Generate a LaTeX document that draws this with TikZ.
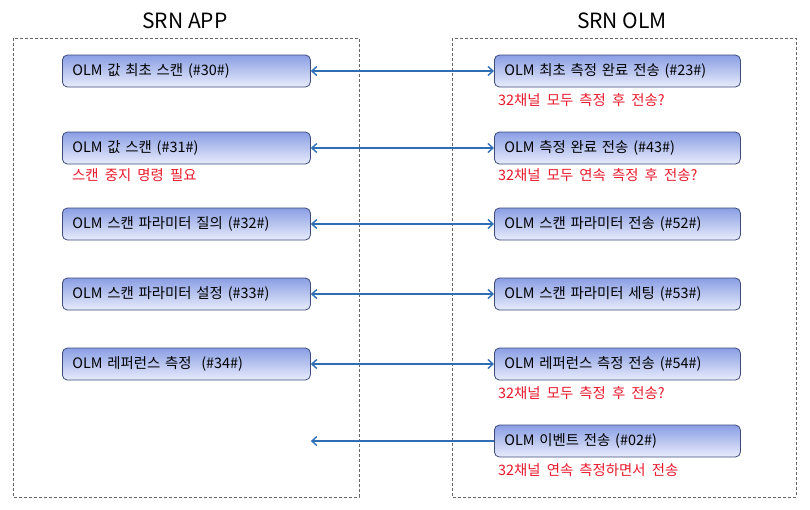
\documentclass[tikz,border=0pt]{standalone}
\usepackage{fontspec}
\setmainfont{Noto Sans CJK KR}
\newfontfamily\boxfont[WordSpace=1.9]{Noto Sans CJK KR}
\usetikzlibrary{arrows.meta}
\definecolor{boxtop}{HTML}{8A9EE4}
\definecolor{boxbot}{HTML}{E8ECFB}
\definecolor{boxline}{HTML}{3C4B78}
\definecolor{arr}{HTML}{2F6DB5}
\definecolor{note}{HTML}{E8192C}
\definecolor{frame}{HTML}{666666}
\tikzset{
  msgbox/.style={draw=boxline, line width=0.8pt, rounded corners=5pt,
    top color=boxtop, bottom color=boxbot, minimum height=32pt,
    text width=#1, inner xsep=10pt, align=left, anchor=west,
    font=\boxfont\fontsize{14.4}{16}\selectfont},
  msgbox/.default=226pt,
  notetext/.style={text=note, anchor=west, inner sep=0pt, font=\boxfont\fontsize{14.4}{16}\selectfont},
  frm/.style={draw=frame, line width=0.7pt, dash pattern=on 3pt off 2pt},
  title/.style={font=\fontsize{21}{23}\selectfont},
  link/.style={draw=arr, line width=1.4pt, {Straight Barb[length=5pt,width=9pt]}-{Straight Barb[length=5pt,width=9pt]}},
  linkl/.style={draw=arr, line width=1.4pt, {Straight Barb[length=5pt,width=9pt]}-},
}
\begin{document}
\begin{tikzpicture}[x=1pt,y=-1pt]
\useasboundingbox (0,0) rectangle (810,509);
\node[title] (tapp) at (185,21) {SRN APP};
\node[title] (tolm) at (622,21) {SRN OLM};
\draw[frm] (13,38) rectangle (359,497);
\draw[frm] (452,38) rectangle (796,497);
% left boxes
\node[msgbox=228pt] (a1) at (62,71) {OLM 값 최초 스캔 (\#30\#)};
\node[msgbox=228pt] (a2) at (62,148) {OLM 값 스캔 (\#31\#)};
\node[msgbox=228pt] (a3) at (62,224) {OLM 스캔 파라미터 질의 (\#32\#)};
\node[msgbox=228pt] (a4) at (62,294) {OLM 스캔 파라미터 설정 (\#33\#)};
\node[msgbox=228pt] (a5) at (62,364) {OLM 레퍼런스 측정 ~(\#34\#)};
% right boxes
\node[msgbox=226pt] (b1) at (494,71) {OLM 최초 측정 완료 전송 (\#23\#)};
\node[msgbox=226pt] (b2) at (494,148) {OLM 측정 완료 전송 (\#43\#)};
\node[msgbox=226pt] (b3) at (494,224) {OLM 스캔 파라미터 전송 (\#52\#)};
\node[msgbox=226pt] (b4) at (494,294) {OLM 스캔 파라미터 세팅 (\#53\#)};
\node[msgbox=226pt] (b5) at (494,364) {OLM 레퍼런스 측정 전송 (\#54\#)};
\node[msgbox=226pt] (b6) at (494,441) {OLM 이벤트 전송 (\#02\#)};
% notes
\node[notetext] (n1) at (498,100) {32채널 모두 측정 후 전송?};
\node[notetext] (n2) at (72,175) {스캔 중지 명령 필요};
\node[notetext] (n3) at (498,175) {32채널 모두 연속 측정 후 전송?};
\node[notetext] (n4) at (498,393) {32채널 모두 측정 후 전송?};
\node[notetext] (n5) at (498,470) {32채널 연속 측정하면서 전송};
% links
\draw[link] (a1.east) -- (b1.west);
\draw[link] (a2.east) -- (b2.west);
\draw[link] (a3.east) -- (b3.west);
\draw[link] (a4.east) -- (b4.west);
\draw[link] (a5.east) -- (b5.west);
\coordinate (e6) at (a5.east |- b6.west);
\draw[linkl] (e6) -- (b6.west);
\end{tikzpicture}
\end{document}
